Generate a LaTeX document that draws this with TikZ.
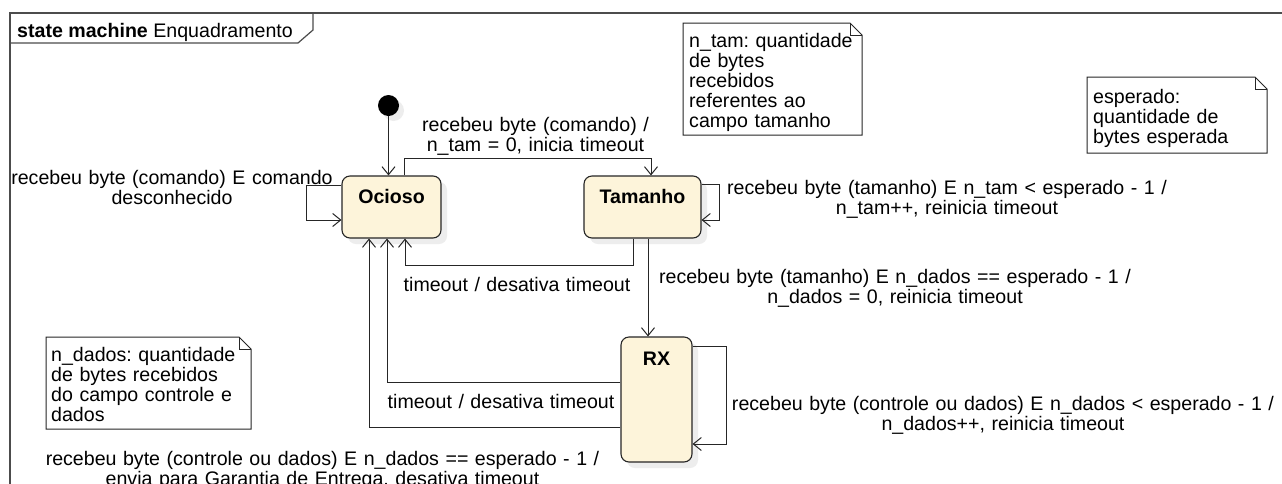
\documentclass[tikz,border=0pt]{standalone}
\usepackage{fontspec}
\setmainfont{Liberation Sans}
\frenchspacing
\usetikzlibrary{arrows.meta,shadows}
\definecolor{statefill}{HTML}{FDF4DA}
\newcommand{\umlnote}[4]{%
  \draw[noteline] (#1,#2) -- ({#3-12},#2) -- (#3,{#2+12}) -- (#3,#4) -- (#1,#4) -- cycle;
  \draw[noteline] ({#3-12},#2) -- ({#3-12},{#2+12}) -- (#3,{#2+12});}
\begin{document}
\begin{tikzpicture}[x=1pt,y=-1pt,
  every node/.style={font=\fontsize{19.6}{20}\selectfont},
  frameline/.style={draw=black!70, line width=1.2pt},
  state/.style={draw=black!85, line width=1.1pt, fill=statefill, rounded corners=8pt,
    inner sep=0pt, text height=27pt, font=\bfseries\fontsize{19.6}{20}\selectfont,
    drop shadow={shadow xshift=6pt, shadow yshift=-6pt, opacity=1, fill=black!7}},
  initstate/.style={circle, fill=black, minimum size=21pt, inner sep=0pt,
    drop shadow={shadow xshift=5pt, shadow yshift=-5pt, opacity=1, fill=black!7}},
  tr/.style={draw=black!85, line width=1pt, -{Straight Barb[length=8pt,width=13pt]}},
  lbl/.style={text width=640pt, align=center, anchor=base, inner sep=0pt},
  notetext/.style={text width=200pt, align=left, anchor=base west, inner sep=0pt},
  noteline/.style={draw=black!85, line width=1pt}
]
\useasboundingbox (0,0) rectangle (1282,483);
\fill[white] (0,0) rectangle (1282,483);
% frame
\draw[frameline] (10,520) -- (10,13) -- (1320,13);
\draw[frameline] (10,43) -- (298,43) -- (313,30) -- (313,13);
\node[anchor=base west, inner sep=0pt] (title) at (17,37.5) {\textbf{state machine} Enquadramento};

% notes
\umlnote{683}{23}{862}{135}
\node[notetext] (n1) at (689,47.3) {n\_tam: quantidade\\de bytes\\recebidos\\referentes ao\\campo tamanho};
\umlnote{1087}{77}{1267}{153}
\node[notetext] (n2) at (1093,103.3) {esperado:\\quantidade de\\bytes esperada};
\umlnote{46}{337}{251}{429}
\node[notetext] (n3) at (51,361.7) {n\_dados: quantidade\\de bytes recebidos\\do campo controle e\\dados};

% states
\node[initstate] (init) at (388.5,105.5) {};
\node[state, minimum width=99pt, minimum height=62pt, text depth=35pt] (ocioso) at (391.5,207) {Ocioso};
\node[state, minimum width=117pt, minimum height=62pt, text depth=35pt] (tamanho) at (642.5,207) {Tamanho};
\node[state, minimum width=71pt, minimum height=125pt, text height=28pt, text depth=97pt] (rx) at (656.5,399.5) {RX};

% bend points
\coordinate (k2) at (651,158);
\coordinate (k3) at (306,220);
\coordinate (k4) at (719,220);
\coordinate (k5) at (405,265);
\coordinate (k9) at (726,444);

% transitions
\draw[tr] (init.south) -- (init.south |- ocioso.north);
\draw[tr] ([xshift=12.5pt]ocioso.north) |- (k2) -- ([xshift=8.5pt]tamanho.north);
\draw[tr] ([yshift=22pt]ocioso.west) -| (k3) -- ([yshift=-13pt]ocioso.west);
\draw[tr] ([yshift=23pt]tamanho.east) -| (k4) -- ([yshift=-13pt]tamanho.east);
\draw[tr] ([xshift=-9.5pt]tamanho.south) |- (k5) -- ([xshift=13.5pt]ocioso.south);
\draw[tr] ([xshift=5.5pt]tamanho.south) -- ([xshift=-8.5pt]rx.north);
\draw[tr] ([yshift=17.5pt]rx.west) -| ([xshift=-4.5pt]ocioso.south);
\draw[tr] ([yshift=-27.5pt]rx.west) -| ([xshift=-22.5pt]ocioso.south);
\draw[tr] ([yshift=53.5pt]rx.east) -| (k9) -- ([yshift=-44.5pt]rx.east);

% labels
\node[lbl] (l2) at (535.5,131) {recebeu byte (comando) /\\n\_tam = 0, inicia timeout};
\node[lbl] (l3) at (172,184) {recebeu byte (comando) E comando\\desconhecido};
\node[lbl] (l4) at (947,194) {recebeu byte (tamanho) E n\_tam < esperado - 1 /\\n\_tam++, reinicia timeout};
\node[lbl] (l5) at (517,291.7) {timeout / desativa timeout};
\node[lbl] (l6) at (895,283.3) {recebeu byte (tamanho) E n\_dados == esperado - 1 /\\n\_dados = 0, reinicia timeout};
\node[lbl] (l7) at (501,408.3) {timeout / desativa timeout};
\node[lbl] (l8) at (322.5,465) {recebeu byte (controle ou dados) E n\_dados == esperado - 1 /\\envia para Garantia de Entrega, desativa timeout};
\node[lbl] (l9) at (1003,410) {recebeu byte (controle ou dados) E n\_dados < esperado - 1 /\\n\_dados++, reinicia timeout};
\end{tikzpicture}
\end{document}
